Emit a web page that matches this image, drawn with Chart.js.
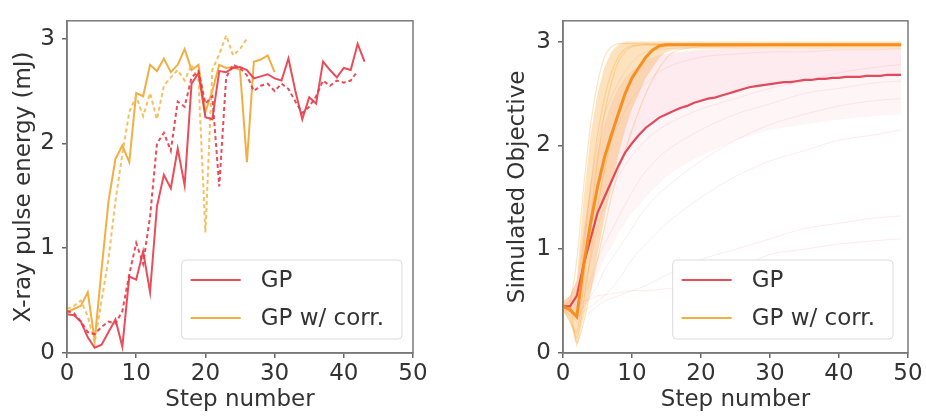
<!DOCTYPE html>
<html><head><meta charset="utf-8">
<script src="https://cdn.jsdelivr.net/npm/chart.js@4.4.1/dist/chart.umd.min.js"></script>
<style>
html,body{margin:0;padding:0;background:#fff;width:926px;height:418px;overflow:hidden}
canvas{position:absolute;top:0}
#c1{left:0}
#c2{left:463px}
</style></head><body>
<canvas id="c1" width="460" height="418"></canvas>
<canvas id="c2" width="463" height="418"></canvas>
<script>
// ---------- data ----------
const xTicks = [0, 10, 20, 30, 40, 50];
const yTicks = [0, 1, 2, 3];
const legendLabels = ['GP', 'GP w/ corr.'];

// Left panel: single experimental runs (x = step index)
const gpSolid = [0.37,0.36,0.30,0.15,0.05,0.08,0.20,0.32,0.06,0.73,0.70,0.97,0.58,1.40,1.70,1.57,1.95,1.60,2.57,2.67,2.25,2.23,2.69,2.68,2.72,2.73,2.70,2.62,2.64,2.66,2.62,2.60,2.81,2.50,2.23,2.44,2.38,2.78,2.70,2.63,2.72,2.70,2.95,2.78];
const gpDashed = [0.40,0.38,0.30,0.20,0.18,0.25,0.30,0.28,0.40,0.75,1.05,0.85,1.30,2.00,2.10,1.93,2.40,2.35,2.63,2.69,2.38,2.45,1.59,2.63,2.75,2.72,2.65,2.50,2.55,2.57,2.50,2.57,2.52,2.40,2.29,2.35,2.45,2.60,2.55,2.60,2.58,2.60,2.69];
const corrSolid = [0.39,0.42,0.45,0.58,0.12,0.80,1.45,1.85,1.98,1.82,2.48,2.45,2.75,2.69,2.81,2.68,2.75,2.90,2.70,2.75,2.30,2.50,2.75,2.72,2.73,2.70,1.82,2.78,2.80,2.84,2.68];
const corrDashed = [0.42,0.45,0.50,0.35,0.10,0.50,0.90,1.45,1.90,2.30,2.45,2.26,2.48,2.23,2.55,2.63,2.70,2.60,2.75,2.60,1.15,2.70,2.85,3.03,2.84,2.90,3.00];

// Right panel: mean curves (x = step index)
const meanGP = [0.45,0.45,0.55,0.85,1.10,1.35,1.50,1.65,1.80,1.93,2.02,2.10,2.17,2.22,2.27,2.30,2.33,2.36,2.38,2.41,2.43,2.45,2.46,2.48,2.50,2.52,2.54,2.56,2.57,2.58,2.59,2.60,2.61,2.61,2.62,2.63,2.63,2.64,2.64,2.65,2.65,2.66,2.66,2.66,2.67,2.67,2.67,2.68,2.68,2.68];
const meanCorr = [0.45,0.42,0.35,0.85,1.25,1.60,1.88,2.10,2.30,2.50,2.65,2.75,2.85,2.92,2.96,2.97,2.97,2.97,2.97,2.97,2.97,2.97,2.97,2.97,2.97,2.97,2.97,2.97,2.97,2.97,2.97,2.97,2.97,2.97,2.97,2.97,2.97,2.97,2.97,2.97,2.97,2.97,2.97,2.97,2.97,2.97,2.97,2.97,2.97,2.97];

// Right panel: spread of simulated runs
const bandSteps = [0,1,2,3,4,5,6,7,8,9,10,11,12,13,14,15,16,18,20,25,30,35,40,45,49];
const corrUpper = [0.50,0.55,0.70,1.50,2.10,2.50,2.75,2.90,2.97,3.00,3.00,3.00,3.00,3.00,3.00,3.00,3.00,3.00,3.00,3.00,3.00,3.00,3.00,3.00,3.00];
const corrLower = [0.40,0.30,0.05,0.35,0.60,0.95,1.30,1.60,1.90,2.15,2.35,2.50,2.65,2.75,2.85,2.90,2.92,2.93,2.93,2.93,2.93,2.93,2.93,2.93,2.93];
const gpUpper = [0.50,0.55,0.70,1.20,1.60,1.95,2.20,2.40,2.55,2.65,2.72,2.77,2.82,2.85,2.87,2.88,2.89,2.91,2.92,2.93,2.93,2.93,2.93,2.93,2.93];
const gpLower = [0.40,0.35,0.30,0.45,0.60,0.75,0.90,1.02,1.15,1.25,1.35,1.42,1.50,1.57,1.63,1.70,1.75,1.83,1.90,2.05,2.15,2.20,2.25,2.28,2.30];

const gpRunSteps = [0,1,2,3,4,5,6,8,10,12,15,20,25,30,35,40,45,49];
const gpRuns = [
  [0.45,0.45,0.60,1.10,1.60,2.00,2.30,2.60,2.80,2.90,2.93,2.95,2.95,2.96,2.96,2.96,2.97,2.97],
  [0.45,0.40,0.50,0.90,1.30,1.60,1.90,2.20,2.45,2.60,2.75,2.85,2.88,2.90,2.90,2.92,2.92,2.93],
  [0.45,0.45,0.40,0.60,0.90,1.20,1.40,1.70,1.90,2.05,2.20,2.35,2.45,2.55,2.62,2.70,2.75,2.78],
  [0.45,0.50,0.45,0.55,0.70,0.90,1.05,1.30,1.55,1.75,1.95,2.15,2.30,2.40,2.50,2.55,2.60,2.62],
  [0.45,0.40,0.35,0.45,0.55,0.65,0.80,1.00,1.20,1.40,1.60,1.85,2.05,2.20,2.30,2.38,2.43,2.45],
  [0.45,0.45,0.35,0.40,0.45,0.50,0.55,0.70,0.90,1.05,1.25,1.50,1.70,1.85,1.95,2.05,2.10,2.15],
  [0.45,0.40,0.30,0.35,0.40,0.45,0.50,0.55,0.60,0.65,0.75,0.90,1.00,1.10,1.20,1.25,1.30,1.32],
  [0.45,0.40,0.45,0.50,0.52,0.55,0.56,0.58,0.60,0.60,0.62,0.65,0.80,0.95,1.00,1.05,1.08,1.10]
];
const corrRunSteps = [0,1,2,3,4,5,6,7,8,9,10,12,14,16,20,30,40,49];
const corrRuns = [
  [0.45,0.50,0.90,1.60,2.20,2.60,2.85,2.95,2.98,2.98,2.98,2.98,2.98,2.98,2.98,2.98,2.98,2.98],
  [0.45,0.40,0.40,1.00,1.60,2.10,2.45,2.70,2.85,2.93,2.96,2.97,2.97,2.97,2.97,2.97,2.97,2.97],
  [0.45,0.35,0.15,0.50,0.95,1.40,1.75,2.05,2.30,2.50,2.65,2.85,2.94,2.96,2.97,2.97,2.97,2.97],
  [0.45,0.45,0.10,0.30,0.60,0.90,1.20,1.50,1.75,1.95,2.15,2.50,2.75,2.90,2.95,2.96,2.96,2.96],
  [0.45,0.30,0.20,0.70,1.30,1.85,2.30,2.60,2.80,2.90,2.95,2.97,2.97,2.97,2.97,2.97,2.97,2.97]
];

// ---------- styling ----------
const RED = 'rgba(232,56,72,0.9)';
const ORANGE = 'rgba(240,165,45,0.9)';
const ORANGE_LIGHT = 'rgba(245,185,80,0.9)';
const FONT = {family: '"DejaVu Sans", sans-serif', size: 23};
const TXT = '#333';
const pts = (ys, xs) => ys.map((v, i) => ({x: xs ? xs[i] : i, y: v}));

function xScale() {
  return {type: 'linear', min: 0, max: 50,
    afterBuildTicks: s => { s.ticks = xTicks.map(v => ({value: v})); },
    afterFit: s => { s.height = 65; },
    ticks: {font: FONT, color: TXT, padding: 2, maxRotation: 0},
    grid: {drawOnChartArea: false, tickLength: 5, color: '#666', lineWidth: 1.5},
    border: {color: '#7a7a7a', width: 1.5},
    title: {display: true, text: 'Step number', font: FONT, color: TXT, padding: {top: 0, bottom: 4}}
  };
}
function yScale(title, ymax, width) {
  return {type: 'linear', min: 0, max: ymax,
    afterBuildTicks: s => { s.ticks = yTicks.map(v => ({value: v})); },
    afterFit: s => { s.width = width; },
    ticks: {font: FONT, color: TXT, padding: 7},
    grid: {drawOnChartArea: false, tickLength: 5, color: '#666', lineWidth: 1.5},
    border: {color: '#7a7a7a', width: 1.5},
    title: {display: true, text: title, font: FONT, color: TXT, padding: {top: 10, bottom: 0}}
  };
}

const framePlugin = {
  id: 'frame',
  afterDraw(chart) {
    const {ctx, chartArea: a} = chart;
    ctx.save();
    ctx.strokeStyle = '#7a7a7a';
    ctx.lineWidth = 1.5;
    ctx.strokeRect(a.left, a.top, a.right - a.left, a.bottom - a.top);
    ctx.restore();
  }
};
function legendPlugin(colors, inset) {
  return {
    id: 'boxLegend',
    afterDatasetsDraw(chart) {
      const {ctx, chartArea: a} = chart;
      ctx.save();
      ctx.font = '23px "DejaVu Sans", sans-serif';
      const tw = Math.max(...legendLabels.map(t => ctx.measureText(t).width));
      const w = 9 + 50 + 20 + tw + 18, h = 79;
      const x = a.right - inset - w, y = a.bottom - 14 - h;
      ctx.beginPath();
      ctx.roundRect(x, y, w, h, 4);
      ctx.fillStyle = 'rgba(255,255,255,0.85)';
      ctx.fill();
      ctx.strokeStyle = '#dcdcdc';
      ctx.lineWidth = 1;
      ctx.stroke();
      legendLabels.forEach((t, i) => {
        const yy = y + 20 + 38 * i;
        ctx.beginPath();
        ctx.strokeStyle = colors[i];
        ctx.lineWidth = 2.2;
        ctx.moveTo(x + 9, yy); ctx.lineTo(x + 59, yy);
        ctx.stroke();
        ctx.fillStyle = TXT;
        ctx.textBaseline = 'middle';
        ctx.textAlign = 'left';
        ctx.fillText(t, x + 79, yy + 1);
      });
      ctx.restore();
    }
  };
}

const common = {responsive: false, animation: false, events: [],
  plugins: {legend: {display: false}, tooltip: {enabled: false}},
  elements: {point: {radius: 0}, line: {tension: 0}}};

// ---------- left chart ----------
new Chart(document.getElementById('c1'), {
  type: 'line',
  data: {datasets: [
    {data: pts(gpSolid), borderColor: RED, borderWidth: 2, fill: false, order: 2},
    {data: pts(gpDashed), borderColor: RED, borderWidth: 2, borderDash: [4, 3], fill: false, order: 1},
    {data: pts(corrSolid), borderColor: ORANGE, borderWidth: 2, fill: false, order: 4},
    {data: pts(corrDashed), borderColor: ORANGE_LIGHT, borderWidth: 2, borderDash: [4, 3], fill: false, order: 3}
  ]},
  options: Object.assign({}, common, {
    layout: {padding: {left: 0, top: 7, right: 47, bottom: 0}},
    scales: {x: xScale(), y: yScale('X-ray pulse energy (mJ)', 3.17, 67)}
  }),
  plugins: [legendPlugin([RED, ORANGE], 11), framePlugin]
});

// ---------- right chart ----------
// indices: 0 corrUpper, 1 corrLower, 2 gpUpper(fill to lower), 3 gpLower, 4 gpUpper(fill to mean), 5 meanGP, 6 meanCorr, then runs
const rds = [
  {data: pts(corrUpper, bandSteps), borderWidth: 0, borderColor: 'rgba(0,0,0,0)', backgroundColor: 'rgba(250,160,40,0.30)', fill: '+1', order: 9},
  {data: pts(corrLower, bandSteps), borderWidth: 0, borderColor: 'rgba(0,0,0,0)', fill: false, order: 9},
  {data: pts(gpUpper, bandSteps), borderWidth: 0, borderColor: 'rgba(0,0,0,0)', backgroundColor: 'rgba(245,120,135,0.07)', fill: '+1', order: 11},
  {data: pts(gpLower, bandSteps), borderWidth: 0, borderColor: 'rgba(0,0,0,0)', fill: false, order: 11},
  {data: pts(gpUpper, bandSteps), borderWidth: 0, borderColor: 'rgba(0,0,0,0)', backgroundColor: 'rgba(245,120,135,0.08)', fill: {target: 5}, order: 10},
  {data: pts(meanGP), borderColor: 'rgba(226,64,84,0.95)', borderWidth: 2.2, fill: false, order: 2},
  {data: pts(meanCorr), borderColor: 'rgba(245,140,25,0.95)', borderWidth: 3, fill: false, order: 1}
];
gpRuns.forEach(r => rds.push({data: pts(r, gpRunSteps), borderColor: 'rgba(235,90,105,0.12)', borderWidth: 1, tension: 0.3, fill: false, order: 8}));
corrRuns.forEach(r => rds.push({data: pts(r, corrRunSteps), borderColor: 'rgba(250,165,45,0.30)', borderWidth: 1.2, tension: 0.3, fill: false, order: 7}));

new Chart(document.getElementById('c2'), {
  type: 'line',
  data: {datasets: rds},
  options: Object.assign({}, common, {
    layout: {padding: {left: 31, top: 7, right: 18, bottom: 0}},
    scales: {x: xScale(), y: yScale('Simulated Objective', 3.2, 69)}
  }),
  plugins: [legendPlugin([RED, ORANGE], 15), framePlugin]
});
</script>
</body></html>
